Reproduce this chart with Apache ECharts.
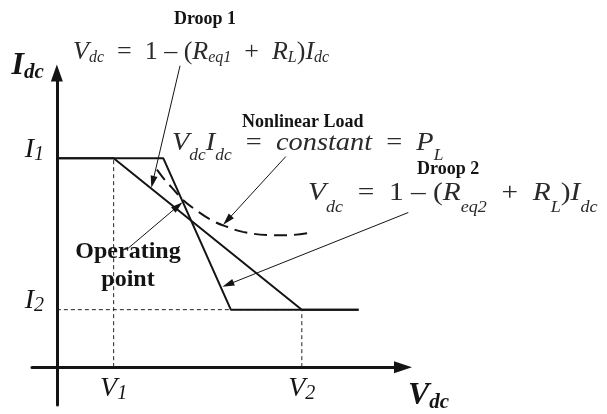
<!DOCTYPE html>
<html>
<head>
<meta charset="utf-8">
<script src="https://cdn.jsdelivr.net/npm/echarts@6/dist/echarts.min.js"></script>
<style>
  html, body { margin: 0; padding: 0; background: #fff; }
  #chart { width: 607px; height: 414px; }
</style>
</head>
<body>
<div id="chart"></div>
<script>
// Operating limits on the voltage and current axes
const voltTicks = [1.6, 6.9];
const voltTickNames = ['1', '2'];
const currTicks = [1.9, 6.9];
const currTickNames = ['2', '1'];

// Droop characteristics (voltage breakpoints, current levels)
const droop1Volt = [0, 1.6, 6.9, 8.5];
const droop1Curr = [6.9, 6.9, 1.9, 1.9];
const droop2Volt = [0, 3.0, 4.9, 8.5];
const droop2Curr = [6.9, 6.9, 1.9, 1.9];

// Constant-power load curve
const loadVolt = [2.82, 3.04, 3.24, 3.55, 4.03, 4.45, 4.79, 5.24, 5.92, 6.48, 7.13];
const loadCurr = [6.53, 6.19, 5.93, 5.53, 5.10, 4.80, 4.64, 4.47, 4.37, 4.36, 4.44];

// Annotation pointers: tail and head, in (voltage, current)
const pointerFrom = [[3.47, 9.96], [6.45, 6.96], [9.90, 5.11], [2.01, 3.93]];
const pointerTo   = [[2.70, 6.12], [4.80, 4.85], [4.82, 2.73], [3.41, 5.32]];

const SERIF = '"Liberation Serif", "Times New Roman", serif';
const INK = '#141414';
const MATH = '#2a2a2a';

const zip = (xs, ys) => xs.map((x, k) => [x, ys[k]]);
const [V1, V2] = voltTicks;
const [I2, I1] = currTicks;

// Rich styles for an equation: main glyphs sit in the middle of a line of
// height `line`, subscripts hang from its bottom edge.
function formulaRich(size, subSize, line) {
  return {
    n: { fontFamily: SERIF, fontSize: size, lineHeight: line, fill: MATH },
    i: { fontFamily: SERIF, fontSize: size, fontStyle: 'italic', lineHeight: line, fill: MATH },
    s: { fontFamily: SERIF, fontSize: subSize, fontStyle: 'italic', lineHeight: 10, verticalAlign: 'bottom', fill: MATH }
  };
}
function boldLabel(x, y, text, align) {
  return {
    type: 'text', x: x, y: y, silent: true,
    style: { text: text, fontFamily: SERIF, fontSize: 18, fontWeight: 'bold', fill: INK,
             align: align, textAlign: align, verticalAlign: 'middle', textVerticalAlign: 'middle' }
  };
}
function formula(x, y, text, rich, stretch) {
  return {
    type: 'text', x: x, y: y, scaleX: stretch, silent: true,
    style: { text: text, rich: rich, align: 'left', textAlign: 'left', verticalAlign: 'top', textVerticalAlign: 'top' }
  };
}

const tickRich = {
  m: { fontFamily: SERIF, fontStyle: 'italic', fontSize: 28, lineHeight: 30, color: INK },
  s: { fontFamily: SERIF, fontStyle: 'italic', fontSize: 20, lineHeight: 14, verticalAlign: 'bottom', color: INK }
};
const nameRich = {
  m: { fontFamily: SERIF, fontStyle: 'italic', fontWeight: 'bold', fontSize: 32, lineHeight: 34, color: INK },
  s: { fontFamily: SERIF, fontStyle: 'italic', fontWeight: 'bold', fontSize: 21, lineHeight: 18, verticalAlign: 'bottom', color: INK }
};
function tickName(list, names, val) {
  let k = 0;
  list.forEach((t, j) => { if (Math.abs(t - val) < 1e-6) k = j; });
  return names[k];
}

const chart = echarts.init(document.getElementById('chart'));
chart.setOption({
  animation: false,
  backgroundColor: '#fff',
  grid: { left: 32, right: 204, top: 73, bottom: 9, containLabel: false, outerBoundsMode: 'none' },
  xAxis: {
    type: 'value', min: -0.7, max: 9.75,
    splitLine: { show: false },
    axisTick: { show: false },
    axisLine: { onZero: true, symbol: ['none', 'triangle'], symbolSize: [12, 18],
                lineStyle: { color: INK, width: 3 } },
    axisLabel: {
      customValues: voltTicks, margin: -31, rich: tickRich,
      formatter: v => '{m|V}{s|' + tickName(voltTicks, voltTickNames, v) + '}'
    },
    name: '{m|V}{s|dc}', nameLocation: 'end', nameGap: 5, nameMoveOverlap: false,
    nameTextStyle: { align: 'left', verticalAlign: 'top', padding: [12, 0, 0, 0], rich: nameRich }
  },
  yAxis: {
    type: 'value', min: -1.25, max: 9.72,
    splitLine: { show: false },
    axisTick: { show: false },
    axisLine: { onZero: true, symbol: ['none', 'triangle'], symbolSize: [12, 17],
                lineStyle: { color: INK, width: 3 } },
    axisLabel: {
      customValues: currTicks, margin: -12, rich: tickRich, padding: [0, 0, 18, 0],
      formatter: v => '{m|I}{s|' + tickName(currTicks, currTickNames, v) + '}'
    },
    name: '{m|I}{s|dc}', nameLocation: 'end', nameGap: 7, nameMoveOverlap: false,
    nameTextStyle: { align: 'right', verticalAlign: 'middle', padding: [0, 13, 0, 0], rich: nameRich }
  },
  series: [
    { // V1 guide
      type: 'line', silent: true, symbol: 'none', data: [[V1, 0], [V1, I1]],
      lineStyle: { color: '#222', width: 1, type: [4, 3] }, z: 1
    },
    { // V2 guide
      type: 'line', silent: true, symbol: 'none', data: [[V2, 0], [V2, I2]],
      lineStyle: { color: '#222', width: 1, type: [4, 3] }, z: 1
    },
    { // I2 guide
      type: 'line', silent: true, symbol: 'none', data: [[0, I2], [V2, I2]],
      lineStyle: { color: '#222', width: 1, type: [4, 3] }, z: 1
    },
    {
      name: 'Droop 1', type: 'line', silent: true, symbol: 'none',
      data: zip(droop1Volt, droop1Curr),
      lineStyle: { color: INK, width: 2 }, z: 3
    },
    {
      name: 'Droop 2', type: 'line', silent: true, symbol: 'none',
      data: zip(droop2Volt, droop2Curr),
      lineStyle: { color: INK, width: 2 }, z: 3
    },
    {
      name: 'Nonlinear Load', type: 'line', silent: true, symbol: 'none', smooth: 0.4,
      data: zip(loadVolt, loadCurr),
      lineStyle: { color: INK, width: 2, type: [13, 7] }, z: 3
    },
    {
      type: 'lines', coordinateSystem: 'cartesian2d', silent: true, clip: false,
      symbol: ['none', 'triangle'], symbolSize: [[7, 12], [7, 12]],
      lineStyle: { color: INK, width: 1, opacity: 1, curveness: 0 },
      data: pointerFrom.map((p, k) => ({ coords: [p, pointerTo[k]] })), z: 4
    }
  ],
  graphic: [
    boldLabel(205, 19, 'Droop 1', 'center'),
    formula(73, 38, '{i|V}{s|dc}{n|  =  1 }{n|–}{n| (}{i|R}{s|eq1}{n|  +  }{i|R}{s|L}{n|)}{i|I}{s|dc}',
            formulaRich(26, 16, 28), 1),
    boldLabel(242, 122, 'Nonlinear Load', 'left'),
    formula(172, 122, '{i|V}{s|dc}{i|I}{s|dc}{n|  =  }{i|constant}{n|  =  }{i|P}{s|L}',
            formulaRich(26, 16, 42), 1.09),
    boldLabel(417, 169, 'Droop 2', 'left'),
    formula(308, 170, '{i|V}{s|dc}{n|  =  1 }{n|–}{n| (}{i|R}{s|eq2}{n|  +  }{i|R}{s|L}{n|)}{i|I}{s|dc}',
            formulaRich(26, 16, 46), 1.13),
    {
      type: 'text', x: 128, y: 238, silent: true,
      style: { text: 'Operating\npoint', fontFamily: SERIF, fontSize: 24, fontWeight: 'bold',
               lineHeight: 28, fill: INK, align: 'center', textAlign: 'center',
               verticalAlign: 'top', textVerticalAlign: 'top' }
    }
  ]
});
</script>
</body>
</html>
